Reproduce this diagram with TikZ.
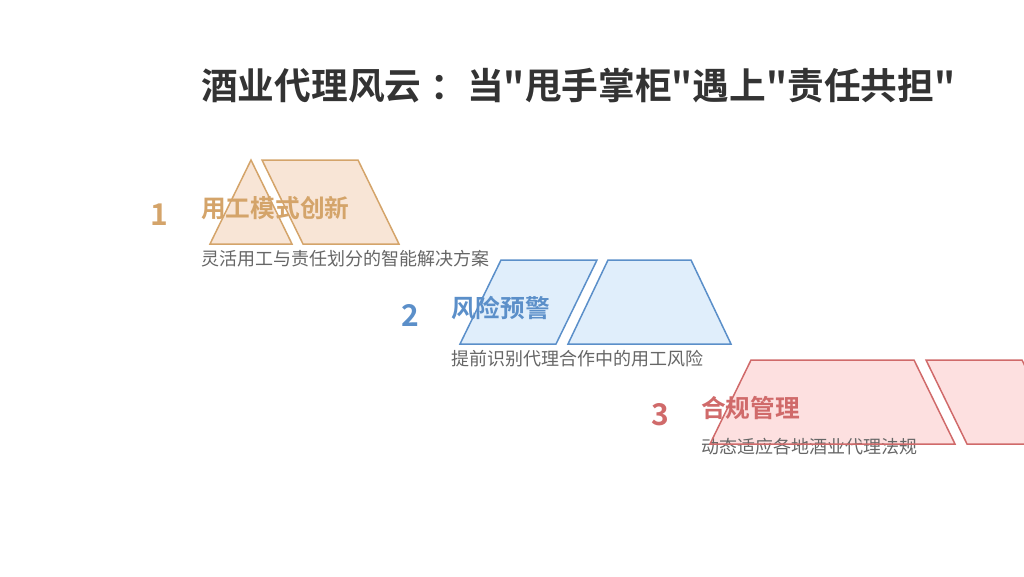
\documentclass[tikz,border=0pt]{standalone}
\usepackage{fontspec}
\setmainfont{Noto Sans CJK SC}[BoldFont={Noto Sans CJK SC Bold}]
\newfontfamily\titlefont{Noto Sans CJK SC Bold}
\definecolor{titlecol}{RGB}{51,51,51}
\definecolor{desccol}{RGB}{102,102,102}
\definecolor{tanline}{RGB}{212,164,106}
\definecolor{tanfill}{RGB}{248,229,214}
\definecolor{blueline}{RGB}{91,143,201}
\definecolor{bluefill}{RGB}{224,238,251}
\definecolor{redline}{RGB}{208,106,106}
\definecolor{redfill}{RGB}{253,224,224}
\tikzset{
  shp/.style={line width=1.5pt,line join=miter},
  numtxt/.style={font=\bfseries\fontsize{30}{32}\selectfont,inner sep=0},
  headtxt/.style={font=\bfseries\fontsize{24.7}{28}\selectfont,anchor=west,inner sep=0},
  desctxt/.style={font=\fontsize{18}{20}\selectfont,text=desccol,anchor=west,inner sep=0}
}
\begin{document}
\begin{tikzpicture}[x=1pt,y=-1pt]
\clip(0,0)rectangle(1024,576);
%fills
\fill[tanfill](251,160)--(292,244)--(210,244)--cycle;
\fill[tanfill](262,160)--(358,160)--(399,244)--(303,244)--cycle;
\fill[bluefill](501,260)--(597,260)--(556,344)--(460,344)--cycle;
\fill[bluefill](608,260)--(691,260)--(731,344)--(568,344)--cycle;
\fill[redfill](751,360)--(914,360)--(955,444)--(710,444)--cycle;
\fill[redfill](926,360)--(1022,360)--(1063,444)--(967,444)--cycle;
%title
\node[font=\titlefont\fontsize{36.7}{40}\selectfont,text=titlecol,anchor=west,inner sep=0](title)at(201,86){酒业代理风云\hspace{.25em}：当"甩手掌柜"遇上"责任共担"};
%labels
\node[numtxt,text=tanline](num1)at(159,215){1};
\node[headtxt,text=tanline](head1)at(201,208){用工模式创新};
\node[desctxt](desc1)at(201,259){灵活用工与责任划分的智能解决方案};
\node[numtxt,text=blueline](num2)at(410,315){2};
\node[headtxt,text=blueline](head2)at(451,308){风险预警};
\node[desctxt](desc2)at(451,359){提前识别代理合作中的用工风险};
\node[numtxt,text=redline](num3)at(660,415){3};
\node[headtxt,text=redline](head3)at(701,408){合规管理};
\node[desctxt](desc3)at(701,447){动态适应各地酒业代理法规};
%outlines
\draw[shp,tanline](251,160)--(292,244)--(210,244)--cycle; %triangle
\draw[shp,tanline](262,160)--(358,160)--(399,244)--(303,244)--cycle;
\draw[shp,blueline](501,260)--(597,260)--(556,344)--(460,344)--cycle;
\draw[shp,blueline](608,260)--(691,260)--(731,344)--(568,344)--cycle;
\draw[shp,redline](751,360)--(914,360)--(955,444)--(710,444)--cycle;
\draw[shp,redline](926,360)--(1022,360)--(1063,444)--(967,444)--cycle;
\end{tikzpicture}
\end{document}
